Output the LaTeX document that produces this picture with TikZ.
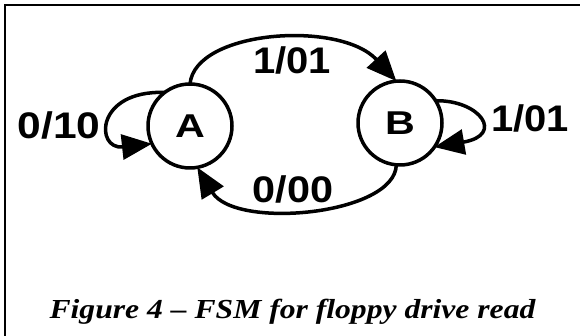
\documentclass[tikz,border=0pt]{standalone}
\usepackage{fontspec}
\usepackage{graphicx}
\usetikzlibrary{arrows.meta}
\newfontfamily\labfont{Liberation Sans}
\newfontfamily\capfont{Liberation Serif}
\tikzset{
  state/.style={circle, draw, line width=3.5pt, minimum size=84pt, inner sep=0pt, outer sep=0pt,
    font=\labfont\bfseries\fontsize{33}{38}\selectfont},
  edge/.style={line width=3.5pt, -{Triangle[length=30pt,width=25pt]}},
  lab/.style={inner sep=0pt, font=\labfont\bfseries\fontsize{37}{42}\selectfont},
  frame/.style={line width=1.3pt}
}
\begin{document}
\begin{tikzpicture}[x=1pt,y=1pt]
\useasboundingbox (0,0) rectangle (580,336);
\draw[frame] (5,0) -- (5,331) -- (580,331);
\node[state] (A) at (190,210) {\scalebox{1.25}[1]{A}};
\node[state] (B) at (400,213) {\scalebox{1.25}[1]{B}};
\draw[edge] (A.90) .. controls (195,306) and (340,316) .. (B.95);
\draw[edge] (B.265) .. controls (395,121) and (235,106) .. (A.280);
\draw[edge] (A.127) .. controls (95,246) and (95,186) .. (A.205);
\draw[edge] (B.32) .. controls (480,236) and (505,201) .. (B.325);
\node[lab] (l1) at (59,211) {\scalebox{1.15}[1]{0/10}};
\node[lab] (l2) at (530,218) {\scalebox{1.08}[1]{1/01}};
\node[lab] (l3) at (292,276) {\scalebox{1.08}[1]{1/01}};
\node[lab] (l4) at (293,147) {\scalebox{1.12}[1]{0/00}};
\node[anchor=base, inner sep=0pt, font=\capfont\bfseries\itshape\fontsize{27.5}{32}\selectfont] (cap) at (292.5,17)
  {\scalebox{1.15}[1]{Figure 4 – FSM for floppy drive read}};
\end{tikzpicture}
\end{document}
